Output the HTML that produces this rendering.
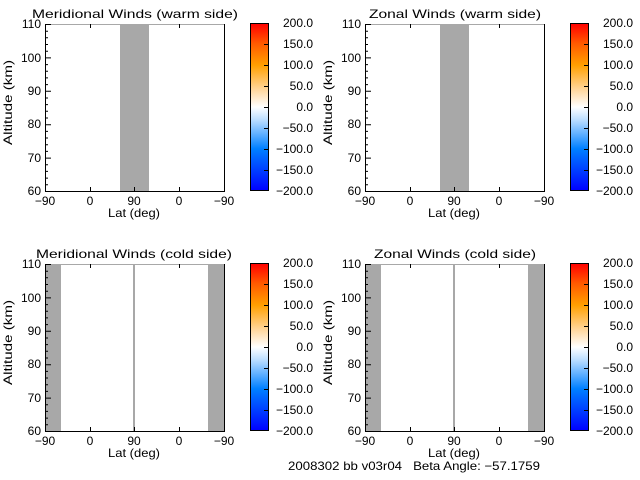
<!DOCTYPE html>
<html><head><style>body{margin:0;background:#fff}svg{display:block}text{font-family:"Liberation Sans",sans-serif;font-size:12px;fill:#000}</style></head><body>
<svg width="640" height="480" xmlns="http://www.w3.org/2000/svg" xmlns:xlink="http://www.w3.org/1999/xlink">
<defs>
<linearGradient id="cb" x1="0" y1="1" x2="0" y2="0">
<stop offset="0" stop-color="#0000ff"/>
<stop offset="0.25" stop-color="#0080ff"/>
<stop offset="0.42" stop-color="#b8dcff"/>
<stop offset="0.5" stop-color="#ffffff"/>
<stop offset="0.6" stop-color="#ffd8a0"/>
<stop offset="0.75" stop-color="#ffa000"/>
<stop offset="0.88" stop-color="#ff5a00"/>
<stop offset="1" stop-color="#ff0000"/>
</linearGradient>
<g id="frame">
<g stroke="#000" stroke-width="1" fill="none">
<path d="M45,191.5h6M45,158.1h6M45,124.7h6M45,91.3h6M45,57.9h6M45,24.5h6"/>
<path d="M45,184.8h3M45,178.1h3M45,171.4h3M45,164.8h3M45,151.4h3M45,144.7h3M45,138h3M45,131.4h3M45,118h3M45,111.3h3M45,104.6h3M45,98h3M45,84.6h3M45,77.9h3M45,71.2h3M45,64.6h3M45,51.2h3M45,44.5h3M45,37.8h3M45,31.2h3"/>
<path d="M90.5,191v-4M134.5,191v-4M179.5,191v-4M90.5,24v4M179.5,24v4"/>
<path d="M45.5,24V191.5H224.5V24"/>
</g>
<g text-anchor="end">
<text x="41" y="195">60</text><text x="41" y="162">70</text><text x="41" y="128">80</text><text x="41" y="95">90</text><text x="41" y="62">100</text><text x="41" y="28">110</text>
</g>
<g text-anchor="middle">
<text x="45" y="205">−90</text><text x="90" y="205">0</text><text x="134" y="205">90</text><text x="179" y="205">0</text><text x="224" y="205">−90</text>
</g>
<text x="108" y="217" textLength="52" lengthAdjust="spacingAndGlyphs">Lat (deg)</text>
<text transform="translate(12,145) rotate(-90)" textLength="85" lengthAdjust="spacingAndGlyphs">Altitude (km)</text>
<rect x="250.5" y="23.5" width="18" height="167" fill="url(#cb)" stroke="#000"/>
<path stroke="#000" d="M264,44.5h4M264,65.5h4M264,86.5h4M264,107.5h4M264,128.5h4M264,149.5h4M264,170.5h4"/>
<g text-anchor="end">
<text x="313" y="27">200.0</text><text x="313" y="48">150.0</text><text x="313" y="69">100.0</text><text x="313" y="90">50.0</text><text x="313" y="111">0.0</text><text x="313" y="132">−50.0</text><text x="313" y="153">−100.0</text><text x="313" y="174">−150.0</text><text x="313" y="195">−200.0</text>
</g>
</g>
</defs>
<rect x="120" y="24" width="29" height="167" fill="#a8a8a8"/>
<line x1="45" y1="24.5" x2="224" y2="24.5" stroke="#a8a8a8"/>
<use xlink:href="#frame"/>
<text x="32" y="18" font-size="14" textLength="206" lengthAdjust="spacingAndGlyphs">Meridional Winds (warm side)</text>
<rect x="440" y="24" width="29" height="167" fill="#a8a8a8"/>
<line x1="365" y1="24.5" x2="544" y2="24.5" stroke="#a8a8a8"/>
<use xlink:href="#frame" transform="translate(320,0)"/>
<text x="455" y="18" font-size="14" text-anchor="middle" textLength="172" lengthAdjust="spacingAndGlyphs">Zonal Winds (warm side)</text>
<rect x="45" y="264" width="16" height="167" fill="#a8a8a8"/>
<rect x="208" y="264" width="16" height="167" fill="#a8a8a8"/>
<rect x="133" y="264" width="2" height="167" fill="#a8a8a8"/>
<line x1="45" y1="264.5" x2="224" y2="264.5" stroke="#a8a8a8"/>
<use xlink:href="#frame" transform="translate(0,240)"/>
<text x="36" y="258" font-size="14" textLength="196" lengthAdjust="spacingAndGlyphs">Meridional Winds (cold side)</text>
<rect x="365" y="264" width="16" height="167" fill="#a8a8a8"/>
<rect x="528" y="264" width="16" height="167" fill="#a8a8a8"/>
<rect x="453" y="264" width="2" height="167" fill="#a8a8a8"/>
<line x1="365" y1="264.5" x2="544" y2="264.5" stroke="#a8a8a8"/>
<use xlink:href="#frame" transform="translate(320,240)"/>
<text x="455" y="258" font-size="14" text-anchor="middle" textLength="162" lengthAdjust="spacingAndGlyphs">Zonal Winds (cold side)</text>
<text x="288" y="470" xml:space="preserve" textLength="252" lengthAdjust="spacingAndGlyphs">2008302 bb v03r04   Beta Angle: −57.1759</text>
</svg>
</body></html>
